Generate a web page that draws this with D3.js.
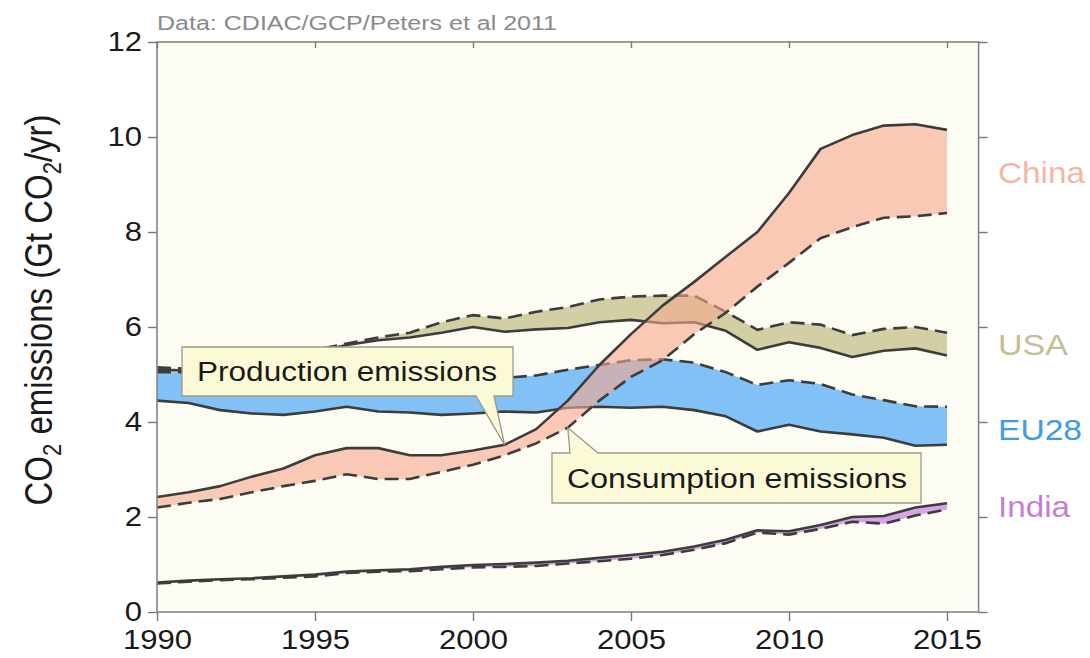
<!DOCTYPE html>
<html>
<head>
<meta charset="utf-8">
<script src="https://cdn.jsdelivr.net/npm/d3@7"></script>
<style>
  body { margin: 0; background: #fff; }
  svg { display: block; font-family: "Liberation Sans", Arial, sans-serif; }
</style>
</head>
<body>
<div id="chart"></div>
<script>
const years = [1990, 1991, 1992, 1993, 1994, 1995, 1996, 1997, 1998, 1999,
    2000, 2001, 2002, 2003, 2004, 2005, 2006, 2007, 2008, 2009,
    2010, 2011, 2012, 2013, 2014, 2015];

// production (solid) and consumption (dashed), Gt CO2/yr
const chinaProd = [2.42, 2.52, 2.65, 2.85, 3.02, 3.30, 3.45, 3.45, 3.30, 3.30,
    3.40, 3.52, 3.85, 4.45, 5.20, 5.85, 6.45, 6.95, 7.48, 8.00,
    8.82, 9.75, 10.04, 10.24, 10.27, 10.15];
const chinaCons = [2.20, 2.30, 2.38, 2.52, 2.65, 2.76, 2.90, 2.80, 2.80, 2.95,
    3.10, 3.30, 3.55, 3.88, 4.45, 4.95, 5.30, 5.85, 6.30, 6.85,
    7.35, 7.87, 8.10, 8.30, 8.33, 8.40];
const usaProd = [5.10, 5.08, 5.17, 5.28, 5.38, 5.45, 5.62, 5.72, 5.78, 5.88,
    6.00, 5.90, 5.95, 5.98, 6.10, 6.15, 6.08, 6.10, 5.92, 5.52,
    5.68, 5.56, 5.37, 5.50, 5.55, 5.40];
const usaCons = [5.15, 5.12, 5.22, 5.35, 5.45, 5.52, 5.65, 5.78, 5.88, 6.10,
    6.25, 6.18, 6.32, 6.42, 6.58, 6.64, 6.66, 6.66, 6.32, 5.94,
    6.10, 6.05, 5.83, 5.96, 6.00, 5.88];
const eu28Prod = [4.45, 4.40, 4.25, 4.18, 4.15, 4.22, 4.32, 4.22, 4.20, 4.15,
    4.18, 4.22, 4.20, 4.30, 4.32, 4.30, 4.32, 4.25, 4.12, 3.80,
    3.94, 3.80, 3.74, 3.67, 3.50, 3.52];
const eu28Cons = [5.05, 5.05, 4.95, 4.85, 4.85, 4.88, 4.95, 4.90, 4.92, 4.90,
    4.95, 4.93, 4.98, 5.10, 5.20, 5.30, 5.32, 5.25, 5.05, 4.78,
    4.88, 4.80, 4.58, 4.46, 4.33, 4.32];
const indiaProd = [0.62, 0.66, 0.69, 0.71, 0.75, 0.79, 0.85, 0.88, 0.90, 0.95,
    0.99, 1.01, 1.04, 1.08, 1.14, 1.20, 1.27, 1.38, 1.52, 1.72,
    1.70, 1.83, 2.00, 2.02, 2.20, 2.29];
const indiaCons = [0.60, 0.64, 0.67, 0.69, 0.72, 0.75, 0.82, 0.85, 0.86, 0.90,
    0.94, 0.95, 0.97, 1.02, 1.07, 1.12, 1.20, 1.31, 1.45, 1.67,
    1.63, 1.75, 1.90, 1.86, 2.03, 2.16];

const xTicks = [1990, 1995, 2000, 2005, 2010, 2015];
const yTicks = [0, 2, 4, 6, 8, 10, 12];

const W = 1090, H = 658;
const x = d3.scaleLinear().domain([1990, 2015]).range([157, 947]);
const y = d3.scaleLinear().domain([0, 12]).range([612, 42]);
const xEnd = 2016;

const svg = d3.select("#chart").append("svg")
    .attr("width", W)
    .attr("height", H);

// plot background
svg.append("rect")
    .attr("x", x(1990))
    .attr("y", y(12))
    .attr("width", x(xEnd) - x(1990))
    .attr("height", y(0) - y(12))
    .attr("fill", "#fcfcf3");

const lineColor = "#3c3c3c";

function series(prod, cons) {
    return years.map((yr, i) => ({ year: yr, p: prod[i], c: cons[i] }));
}

const band = d3.area()
    .x(d => x(d.year))
    .y0(d => y(d.p))
    .y1(d => y(d.c));
const prodLine = d3.line().x(d => x(d.year)).y(d => y(d.p));
const consLine = d3.line().x(d => x(d.year)).y(d => y(d.c));

const regions = [
    { name: "USA", data: series(usaProd, usaCons), fill: "#d2cfa4", opacity: 1 },
    { name: "EU28", data: series(eu28Prod, eu28Cons), fill: "#82c1f6", opacity: 1 },
    { name: "India", data: series(indiaProd, indiaCons), fill: "#d9a3e6", opacity: 1 },
    { name: "China", data: series(chinaProd, chinaCons), fill: "#f7a68e", opacity: 0.6 }
];

regions.forEach(r => {
    const g = svg.append("g").attr("class", "region");
    g.append("path")
        .datum(r.data)
        .attr("d", band)
        .attr("fill", r.fill)
        .attr("fill-opacity", r.opacity);
    g.append("path")
        .datum(r.data)
        .attr("d", prodLine)
        .attr("fill", "none")
        .attr("stroke", lineColor)
        .attr("stroke-width", 2.6)
        .attr("stroke-linejoin", "round");
    g.append("path")
        .datum(r.data)
        .attr("d", consLine)
        .attr("fill", "none")
        .attr("stroke", lineColor)
        .attr("stroke-width", 2.6)
        .attr("stroke-dasharray", "14,7");
});

// frame
svg.append("rect")
    .attr("x", x(1990))
    .attr("y", y(12))
    .attr("width", x(xEnd) - x(1990))
    .attr("height", y(0) - y(12))
    .attr("fill", "none")
    .attr("stroke", "#858585")
    .attr("stroke-width", 1.6);

// axes
const bottom = svg.append("g")
    .attr("transform", `translate(0,${y(0)})`)
    .call(d3.axisBottom(x).tickValues(xTicks).tickFormat(d3.format("d"))
        .tickSizeInner(9).tickSizeOuter(0).tickPadding(9));
const left = svg.append("g")
    .attr("transform", `translate(${x(1990)},0)`)
    .call(d3.axisLeft(y).tickValues(yTicks).tickSizeInner(9).tickSizeOuter(0).tickPadding(4));
svg.append("g")
    .attr("transform", `translate(${x(xEnd)},0)`)
    .call(d3.axisRight(y).tickValues(yTicks).tickSizeInner(9).tickSizeOuter(0).tickFormat(""));
svg.append("g")
    .attr("transform", `translate(0,${y(12)})`)
    .call(d3.axisBottom(x).tickValues(xTicks).tickSizeInner(6).tickSizeOuter(0).tickFormat(""));

svg.selectAll(".domain").remove();
svg.selectAll(".tick line").attr("stroke", "#777").attr("stroke-width", 1.4);
bottom.selectAll("text")
    .attr("font-size", 27)
    .attr("fill", "#1a1a1a")
    .attr("transform", "scale(1.15,1)");
left.selectAll("text")
    .attr("font-size", 27)
    .attr("fill", "#1a1a1a")
    .attr("transform", "scale(1.15,1)");
svg.selectAll(".tick text").attr("font-family", "Liberation Sans, Arial, sans-serif");

// y axis title
const yTitle = svg.append("text")
    .attr("transform", "translate(52,310) scale(1.15,1) rotate(-90)")
    .attr("text-anchor", "middle")
    .attr("font-size", 33)
    .attr("fill", "#1a1a1a");
yTitle.append("tspan").text("CO");
yTitle.append("tspan").attr("font-size", 22).attr("dy", 8).text("2");
yTitle.append("tspan").attr("dy", -8).text(" emissions (Gt CO");
yTitle.append("tspan").attr("font-size", 22).attr("dy", 8).text("2");
yTitle.append("tspan").attr("dy", -8).text("/yr)");

// source note
svg.append("text")
    .attr("x", x(1990))
    .attr("y", 30)
    .attr("font-size", 20)
    .attr("fill", "#8a8a8a")
    .attr("textLength", 400)
    .attr("lengthAdjust", "spacingAndGlyphs")
    .text("Data: CDIAC/GCP/Peters et al 2011");

// region labels
const labelNames = ["China", "USA", "EU28", "India"];
const labelValues = [9.25, 5.62, 3.85, 2.21];
const labelColors = ["#f2b6a2", "#c4bf92", "#3c9de6", "#c47fd3"];
const labelWidths = [87, 70, 84, 72];
svg.selectAll(".region-label")
    .data(labelNames)
    .enter()
    .append("text")
    .attr("class", "region-label")
    .attr("x", 998)
    .attr("y", (d, i) => y(labelValues[i]))
    .attr("dy", "0.36em")
    .attr("font-size", 29)
    .attr("fill", (d, i) => labelColors[i])
    .attr("textLength", (d, i) => labelWidths[i])
    .attr("lengthAdjust", "spacingAndGlyphs")
    .text(d => d);

// callouts
function callout(box, baseL, baseR, tip, below) {
    const [bx, by, bw, bh] = box;
    let d;
    if (below) {
        d = `M${bx},${by}H${bx + bw}V${by + bh}H${baseR}L${tip[0]},${tip[1]}L${baseL},${by + bh}H${bx}Z`;
    } else {
        d = `M${bx},${by}H${baseL}L${tip[0]},${tip[1]}L${baseR},${by}H${bx + bw}V${by + bh}H${bx}Z`;
    }
    svg.append("path")
        .attr("d", d)
        .attr("fill", "#fcfad6")
        .attr("stroke", "#9a9a8a")
        .attr("stroke-width", 1.3);
}

callout([182, 347, 331, 49], 476, 494, [x(2001), y(chinaProd[11])], true);
svg.append("text")
    .attr("x", 197)
    .attr("y", 381)
    .attr("font-size", 27)
    .attr("fill", "#1a1a1a")
    .attr("textLength", 300)
    .attr("lengthAdjust", "spacingAndGlyphs")
    .text("Production emissions");

callout([552, 453, 369, 50], 570, 598, [x(2003), y(chinaCons[13])], false);
svg.append("text")
    .attr("x", 567)
    .attr("y", 488)
    .attr("font-size", 27)
    .attr("fill", "#1a1a1a")
    .attr("textLength", 340)
    .attr("lengthAdjust", "spacingAndGlyphs")
    .text("Consumption emissions");
</script>
</body>
</html>
